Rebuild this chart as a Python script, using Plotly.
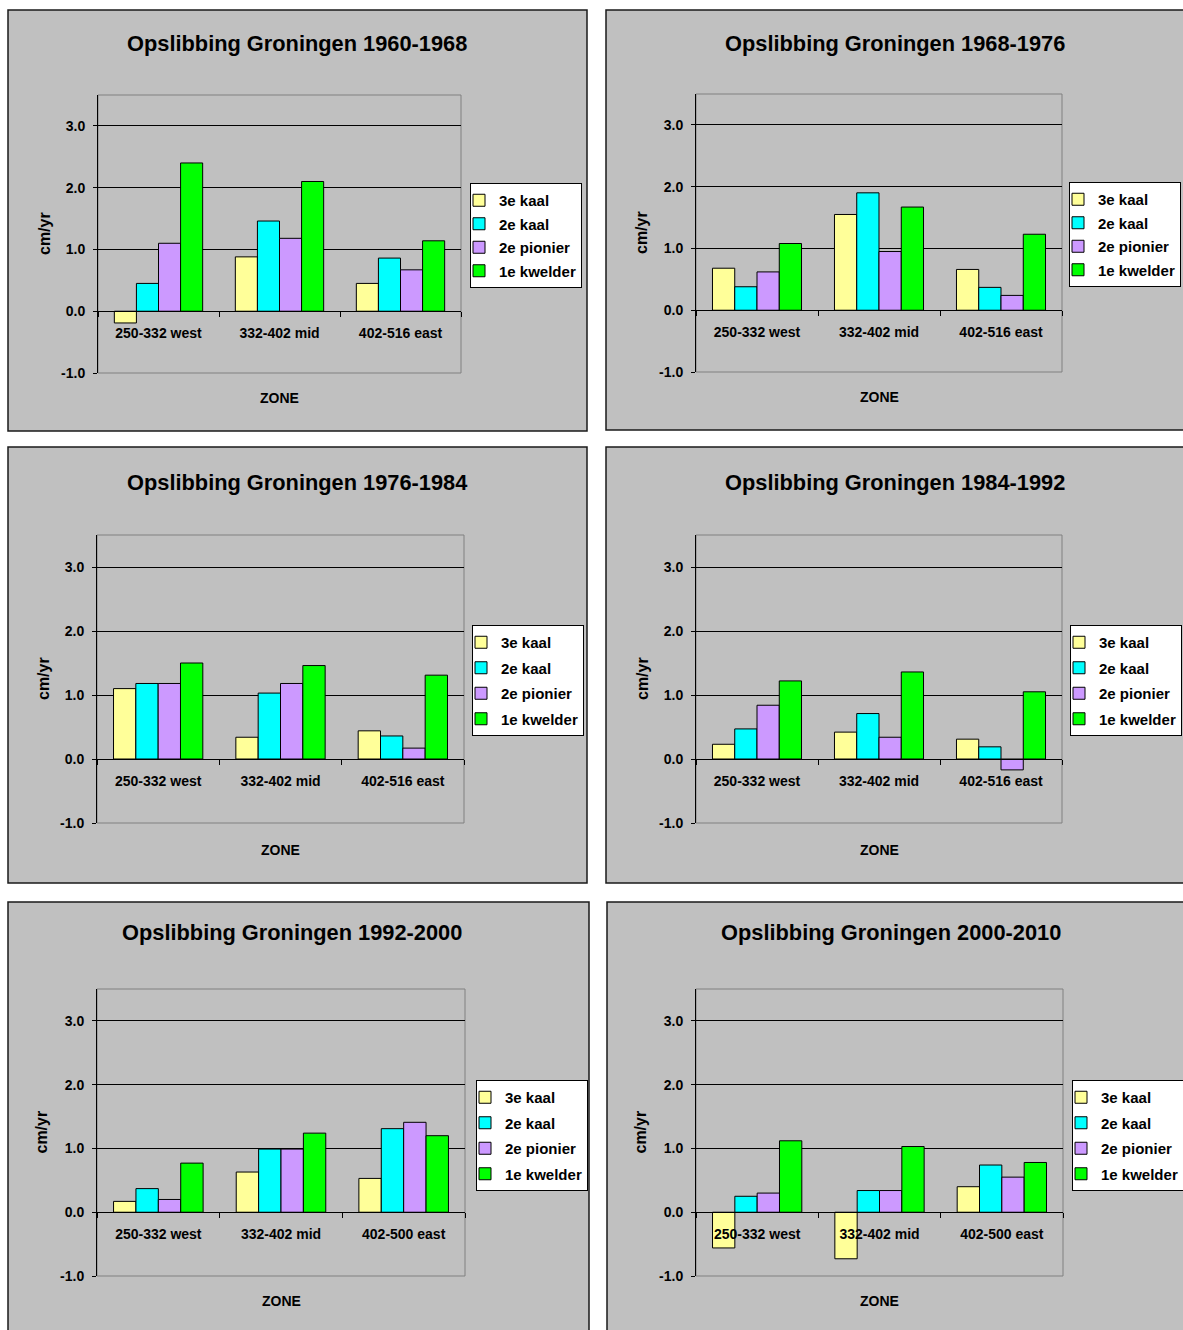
import plotly.graph_objects as go

# ---- data -------------------------------------------------------------
series_names = ["3e kaal", "2e kaal", "2e pionier", "1e kwelder"]
series_colors = ["#FFFF99", "#00FFFF", "#CC99FF", "#00FF00"]

zones_516 = ["250-332 west", "332-402 mid", "402-516 east"]
zones_500 = ["250-332 west", "332-402 mid", "402-500 east"]

titles = [
    "Opslibbing Groningen 1960-1968",
    "Opslibbing Groningen 1968-1976",
    "Opslibbing Groningen 1976-1984",
    "Opslibbing Groningen 1984-1992",
    "Opslibbing Groningen 1992-2000",
    "Opslibbing Groningen 2000-2010",
]

# rows: 3e kaal, 2e kaal, 2e pionier, 1e kwelder; columns: west, mid, east
rate_1960_1968 = [[-0.19, 0.88, 0.45], [0.45, 1.46, 0.86], [1.10, 1.18, 0.67], [2.40, 2.10, 1.14]]
rate_1968_1976 = [[0.68, 1.55, 0.66], [0.38, 1.90, 0.37], [0.62, 0.95, 0.24], [1.08, 1.67, 1.23]]
rate_1976_1984 = [[1.10, 0.34, 0.44], [1.18, 1.03, 0.36], [1.18, 1.18, 0.17], [1.50, 1.46, 1.31]]
rate_1984_1992 = [[0.23, 0.42, 0.31], [0.47, 0.71, 0.19], [0.84, 0.34, -0.17], [1.22, 1.36, 1.05]]
rate_1992_2000 = [[0.17, 0.63, 0.53], [0.37, 0.99, 1.31], [0.20, 0.99, 1.41], [0.77, 1.24, 1.20]]
rate_2000_2010 = [[-0.56, -0.73, 0.40], [0.25, 0.34, 0.74], [0.30, 0.34, 0.55], [1.12, 1.03, 0.78]]

panel_rates = [rate_1960_1968, rate_1968_1976, rate_1976_1984,
               rate_1984_1992, rate_1992_2000, rate_2000_2010]
panel_zones = [zones_516, zones_516, zones_516, zones_516, zones_500, zones_500]

y_ticks = [-1, 0, 1, 2, 3]
y_tick_text = [f"{v:.1f}" for v in y_ticks]

# ---- layout geometry (pixels) ----------------------------------------
W, H = 1183, 1330
FONT = "Liberation Sans, Arial, sans-serif"

# gray chart frames: left, top, right, bottom
frames = [(8, 10, 587, 431), (606, 10, 1186, 430),
          (8, 447, 587, 883), (606, 447, 1186, 883),
          (8, 902, 589, 1334), (607, 902, 1186, 1334)]
# plot areas: left, top, right, bottom
plots = [(98, 95, 461, 373), (696, 94, 1062, 372),
         (97, 535, 464, 823), (696, 535, 1062, 823),
         (97, 989, 465, 1276), (696, 989, 1063, 1276)]
# legend top-left corners
legend_pos = [(470, 183), (1069, 182), (472, 625), (1070, 625), (476, 1080), (1072, 1080)]
legend_gap = [1, 1, 3, 3, 3, 3]
title_pos = [(297, 44), (895, 44), (297, 482), (895, 482), (292, 932), (891, 932)]
ylabel_x = [44, 642, 43, 642, 41, 640]
zone_y = [398, 397, 850, 850, 1301, 1301]


def fx(px):
    return px / W


def fy(py):
    return 1 - py / H


fig = go.Figure()
shapes = []
annotations = []
layout = dict(
    width=W, height=H,
    margin=dict(l=0, r=0, t=0, b=0, pad=0, autoexpand=False),
    paper_bgcolor="white",
    plot_bgcolor="white",
    barmode="group",
    bargap=0.27,
    bargroupgap=0,
    font=dict(family=FONT, color="black", size=14),
    hovermode=False,
)

Y_MIN, Y_MAX = -1, 3.5

for i in range(6):
    n = "" if i == 0 else str(i + 1)
    L, T, R, B = plots[i]
    yd = [fy(B), fy(T)]
    zero_pos = yd[0] + (yd[1] - yd[0]) * (0 - Y_MIN) / (Y_MAX - Y_MIN)

    layout["xaxis" + n] = dict(
        domain=[fx(L), fx(R)], anchor="free", position=zero_pos,
        type="category", range=[-0.5, 2.5],
        showline=True, linecolor="black", linewidth=1,
        ticks="outside", tickson="boundaries", ticklen=5, tickcolor="black",
        showgrid=False, zeroline=False,
        tickfont=dict(family=FONT, size=14, weight="bold"),
        ticklabelstandoff=9, fixedrange=True, automargin=False,
    )
    layout["yaxis" + n] = dict(
        domain=yd, anchor="x" + n, range=[Y_MIN, Y_MAX],
        tickmode="array", tickvals=y_ticks, ticktext=y_tick_text,
        showline=True, linecolor="black", linewidth=1,
        ticks="outside", ticklen=4, tickcolor="black",
        showgrid=True, gridcolor="black", gridwidth=1, zeroline=False,
        tickfont=dict(family=FONT, size=14, weight="bold"),
        ticklabelstandoff=5, fixedrange=True, automargin=False,
    )

    leg = "legend" + n
    lx, ly = legend_pos[i]
    layout[leg] = dict(
        x=fx(lx), y=fy(ly), xanchor="left", yanchor="top",
        bgcolor="white", bordercolor="black", borderwidth=1,
        font=dict(family=FONT, size=15, color="black", weight="bold"),
        traceorder="grouped", tracegroupgap=legend_gap[i],
        itemwidth=30, indentation=-12,
    )

    for s, name in enumerate(series_names):
        fig.add_trace(go.Bar(
            x=panel_zones[i], y=panel_rates[i][s], name=name,
            marker=dict(color=series_colors[s], line=dict(color="black", width=1)),
            xaxis="x" + n, yaxis="y" + n, legend=leg,
            legendgroup=f"p{i}-{s}", showlegend=True,
        ))

    # gray chart frame
    fL, fT, fR, fB = frames[i]
    shapes.append(dict(type="rect", xref="paper", yref="paper",
                       x0=fx(fL), x1=fx(fR), y0=fy(fB), y1=fy(fT),
                       fillcolor="#C0C0C0", line=dict(color="#1a1a1a", width=1.5),
                       layer="below"))
    # plot area border
    shapes.append(dict(type="rect", xref=f"x{n} domain", yref=f"y{n} domain",
                       x0=0, x1=1, y0=0, y1=1,
                       line=dict(color="#808080", width=1), layer="below"))

    tx, ty = title_pos[i]
    annotations.append(dict(text=f"<b>{titles[i]}</b>", x=fx(tx), y=fy(ty),
                            xref="paper", yref="paper", showarrow=False,
                            xanchor="center", yanchor="middle",
                            font=dict(family=FONT, size=21.8, color="black")))
    annotations.append(dict(text="<b>cm/yr</b>", x=fx(ylabel_x[i]), y=fy((T + B) / 2),
                            xref="paper", yref="paper", showarrow=False, textangle=-90,
                            xanchor="center", yanchor="middle",
                            font=dict(family=FONT, size=16, color="black")))
    annotations.append(dict(text="<b>ZONE</b>", x=fx((L + R) / 2), y=fy(zone_y[i]),
                            xref="paper", yref="paper", showarrow=False,
                            xanchor="center", yanchor="middle",
                            font=dict(family=FONT, size=14, color="black")))

layout["shapes"] = shapes
layout["annotations"] = annotations
fig.update_layout(**layout)

fig.write_html("out.html")
